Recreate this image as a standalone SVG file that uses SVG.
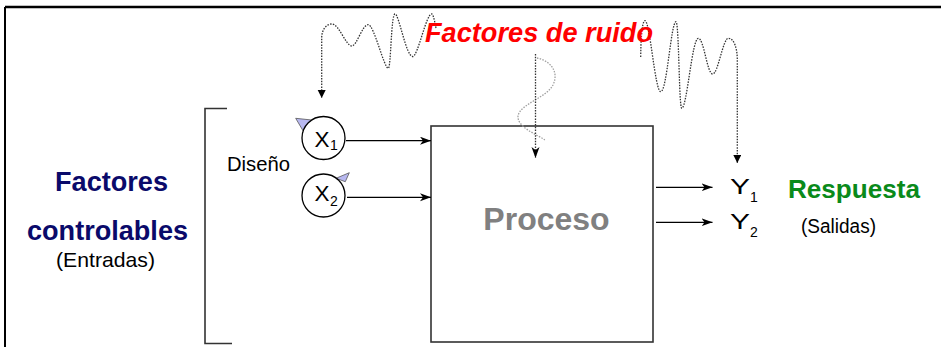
<svg xmlns="http://www.w3.org/2000/svg" width="941" height="347" viewBox="0 0 941 347">
<style>
.sans{font-family:"Liberation Sans",Arial,sans-serif}
.line{stroke:#000;stroke-width:1.3;fill:none}
.dot{stroke:#333;stroke-width:1.3;fill:none;stroke-dasharray:1.5 1.3}
.gdot{stroke:#a0a0a0;stroke-width:1.3;fill:none;stroke-dasharray:1.5 1.3}
.box{stroke:#333;stroke-width:1.6;fill:#fff}
.lbl{font-size:22px;fill:#000}
.sub{font-size:14px;fill:#000}
.tri{fill:#b8b8f0;stroke:#555;stroke-width:0.8}
</style>
<defs>
<marker id="stealth" markerUnits="userSpaceOnUse" markerWidth="12" markerHeight="10" refX="11" refY="4" orient="auto">
<path d="M0,0 L11,4 L0,8 L3,4 z" fill="#000"/>
</marker>
<marker id="filled" markerUnits="userSpaceOnUse" markerWidth="10" markerHeight="10" refX="8" refY="4" orient="auto">
<path d="M0,0 L8,4 L0,8 z" fill="#000"/>
</marker>
</defs>
<rect width="941" height="347" fill="#fff"/>
<g id="frame">
<path d="M5,7 H941" stroke="#000" stroke-width="2.5" fill="none"/>
<path d="M5,7 V347" stroke="#000" stroke-width="2" fill="none"/>
</g>
<g id="bracket">
<path d="M227,108.5 H205 V343.5 H232" stroke="#333" stroke-width="1.6" fill="none"/>
</g>
<g id="labels-left" class="sans">
<text x="111.5" y="191" text-anchor="middle" font-size="27" font-weight="bold" fill="#0a0a6a" textLength="113" lengthAdjust="spacingAndGlyphs">Factores</text>
<text x="107.5" y="240" text-anchor="middle" font-size="28" font-weight="bold" fill="#0a0a6a" textLength="161" lengthAdjust="spacingAndGlyphs">controlables</text>
<text x="105.5" y="267" text-anchor="middle" font-size="21" fill="#000" textLength="99" lengthAdjust="spacingAndGlyphs">(Entradas)</text>
<text x="227" y="171" font-size="21" fill="#000" textLength="63" lengthAdjust="spacingAndGlyphs">Diseño</text>
</g>
<g id="proceso">
<rect class="box" x="431" y="126" width="222" height="216"/>
<text class="sans" x="546.5" y="230" text-anchor="middle" font-size="32" font-weight="bold" fill="#808080">Proceso</text>
</g>
<g id="connectors">
<path class="dot" d="M436,28 C434,18 433,14 431.7,14 C426,14 418,56.5 412.7,56.5 C406,56.5 399,14 395,14 C391,14 391,68.3 388.3,68.3 C384,68.3 374,24.7 368.3,24.7 C362,24.7 357,46 351.7,46 C346,46 339,24 332,24 C326,24 321.7,30 321.7,38 L321.7,98" marker-end="url(#filled)"/>
<path class="dot" d="M640.7,57 C641,30 643,20.7 645,20.7 C650,20.7 655,91.7 660.7,91.7 C667,91.7 671,21.7 676,21.7 C679,21.7 679,108.3 681.7,108.3 C687,108.3 692,38.3 698.3,38.3 C704,38.3 707,74 712.7,74 C718,74 723,38.3 728.3,38.3 C734,38.3 737.3,48 737.3,60 L737.3,163" marker-end="url(#filled)"/>
<path class="gdot" d="M537,58 C548,60 560,70 553,85 C546,98 520,104 518,116 C517,127 536,134 545,140"/>
<path class="dot" d="M535.5,54 V158" marker-end="url(#stealth)"/>
<path class="line" d="M346,140.7 H431" marker-end="url(#stealth)"/>
<path class="line" d="M347,197.3 H431" marker-end="url(#stealth)"/>
<path class="line" d="M656,187.3 H712.5" marker-end="url(#stealth)"/>
<path class="line" d="M656,222.3 H712.5" marker-end="url(#stealth)"/>
</g>
<g id="ruido">
<text class="sans" x="425" y="42" font-size="28" font-weight="bold" font-style="italic" fill="#ff0000" textLength="228" lengthAdjust="spacingAndGlyphs">Factores de ruido</text>
</g>
<g id="x1">
<polygon class="tri" points="295.7,118.3 311.7,120 303,130.7"/>
<circle cx="323.5" cy="138" r="21.5" fill="#fff" stroke="#000" stroke-width="1.3"/>
<text class="sans lbl" x="314.5" y="146.5" textLength="15" lengthAdjust="spacingAndGlyphs">X</text>
<text class="sans sub" x="330" y="149.5" font-size="13">1</text>
</g>
<g id="x2">
<polygon class="tri" points="336,178.3 349.3,172.7 345.3,181.7"/>
<circle cx="323.5" cy="195.5" r="21.5" fill="#fff" stroke="#000" stroke-width="1.3"/>
<text class="sans lbl" x="314.5" y="200.5" textLength="15" lengthAdjust="spacingAndGlyphs">X</text>
<text class="sans sub" x="330" y="205.5" font-size="13">2</text>
</g>
<g id="y1">
<text class="sans lbl" x="730" y="193.5" textLength="20" lengthAdjust="spacingAndGlyphs">Y</text>
<text class="sans sub" x="750" y="201.5">1</text>
</g>
<g id="y2">
<text class="sans lbl" x="730" y="229" textLength="20" lengthAdjust="spacingAndGlyphs">Y</text>
<text class="sans sub" x="750" y="237">2</text>
</g>
<g id="respuesta" class="sans">
<text x="788" y="198" font-size="25" font-weight="bold" fill="#0a8a1a" textLength="132" lengthAdjust="spacingAndGlyphs">Respuesta</text>
<text x="801" y="233" font-size="20" fill="#000" textLength="75" lengthAdjust="spacingAndGlyphs">(Salidas)</text>
</g>
</svg>
